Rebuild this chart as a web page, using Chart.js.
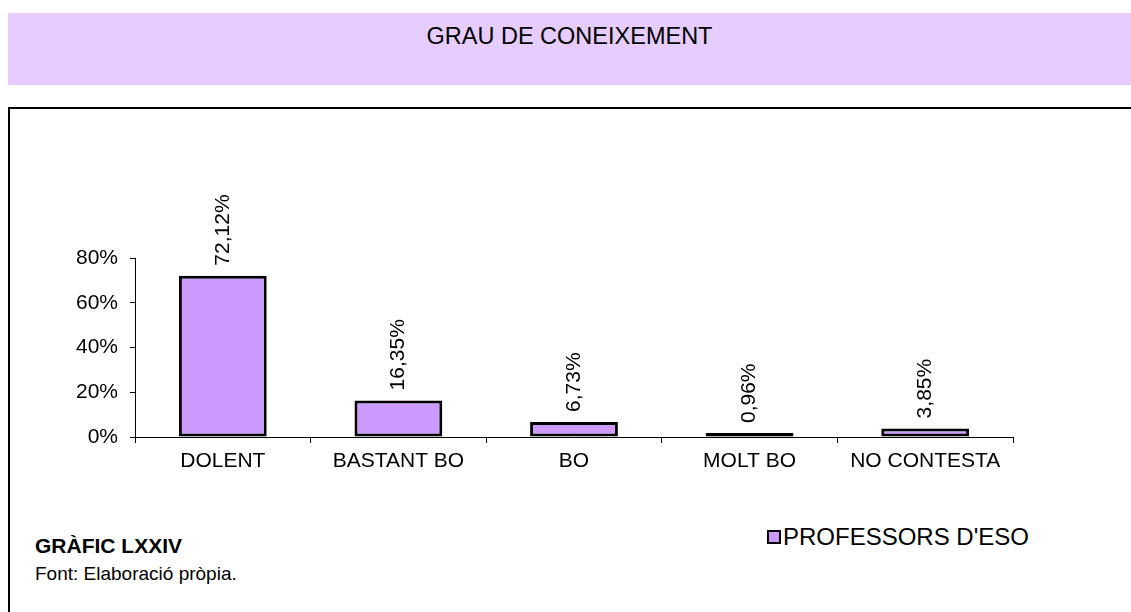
<!DOCTYPE html>
<html>
<head>
<meta charset="utf-8">
<script src="https://cdn.jsdelivr.net/npm/chart.js@4"></script>
<style>
    body { margin: 0; width: 1131px; height: 612px; overflow: hidden; background: #fff; font-family: 'Liberation Sans', Arial, sans-serif; position: relative; }
    .faixa { position: absolute; left: 8px; top: 13px; width: 1123px; height: 72px; background: #e6ccff; }
    .faixa p { margin: 0; text-align: center; font-size: 23.5px; line-height: 46px; color: #000; }
    .caixa { position: absolute; left: 8px; top: 107px; width: 1130px; height: 520px; border: 2px solid #000; box-sizing: border-box; }
    .grafic { position: absolute; left: 35px; top: 534px; font-size: 21px; font-weight: bold; }
    .font { position: absolute; left: 35px; top: 563px; font-size: 19px; }
    .llegenda { position: absolute; left: 767px; top: 523px; font-size: 24px; display: flex; align-items: center; }
    .llegenda span.quadre { width: 10px; height: 10px; border: 2px solid #000; margin-right: 2px; }
    canvas { position: absolute; left: 0; top: 0; }
</style>
</head>
<body>

<div class="faixa"><p>GRAU DE CONEIXEMENT</p></div>
<div class="caixa"></div>
<div class="grafic">GRÀFIC LXXIV</div>
<div class="font">Font: Elaboració pròpia.</div>
<div class="llegenda" id="llegenda"></div>

<canvas id="grafic" width="1131" height="612"></canvas>

<script>
// dades llegides del gràfic
const categories = ['DOLENT', 'BASTANT BO', 'BO', 'MOLT BO', 'NO CONTESTA']
const valors = [72.12, 16.35, 6.73, 0.96, 3.85]
const serie = "PROFESSORS D'ESO"
const yMax = 80
const yPas = 20

const lila = '#cc99ff'
const fonts = "'Liberation Sans', Arial, sans-serif"

document.getElementById('llegenda').innerHTML =
    `<span class="quadre" style="background:${lila}"></span>${serie}`

// etiquetes verticals sobre cada barra
const etiquetes = {
    id: 'etiquetes',
    afterDatasetsDraw(chart) {
        const ctx = chart.ctx
        const meta = chart.getDatasetMeta(0)
        ctx.save()
        ctx.font = '21px ' + fonts
        ctx.fillStyle = '#000'
        ctx.textAlign = 'left'
        ctx.textBaseline = 'middle'
        meta.data.forEach((barra, i) => {
            const text = valors[i].toFixed(2).replace('.', ',') + '%'
            ctx.save()
            ctx.translate(barra.x, barra.y - 10)
            ctx.rotate(-Math.PI / 2)
            ctx.fillText(text, 0, 0)
            ctx.restore()
        })
        ctx.restore()
    }
}

new Chart(document.getElementById('grafic'), {
    type: 'bar',
    data: {
        labels: categories,
        datasets: [{
            label: serie,
            data: valors,
            backgroundColor: lila,
            borderColor: '#000',
            borderWidth: 3,
            borderSkipped: false,
            minBarLength: 4,
            barPercentage: 0.5,
            categoryPercentage: 1,
        }]
    },
    options: {
        responsive: false,
        animation: false,
        layout: { padding: { left: 0, top: 258, right: 118, bottom: 135 } },
        plugins: { legend: { display: false }, tooltip: { enabled: false } },
        scales: {
            x: {
                afterFit: s => { s.height = 40 },
                grid: { offset: true, drawOnChartArea: false, tickLength: 6, color: '#000' },
                border: { color: '#000', width: 1 },
                ticks: { color: '#000', font: { family: fonts, size: 21 }, padding: 6, maxRotation: 0 }
            },
            y: {
                min: 0,
                max: yMax,
                afterFit: s => { s.width = 135 },
                grid: { drawOnChartArea: false, tickLength: 5, color: '#000' },
                border: { color: '#000', width: 1 },
                ticks: {
                    stepSize: yPas,
                    color: '#000',
                    padding: 12,
                    font: { family: fonts, size: 21 },
                    callback: v => v + '%'
                }
            }
        }
    },
    plugins: [etiquetes]
})
</script>
</body>
</html>
